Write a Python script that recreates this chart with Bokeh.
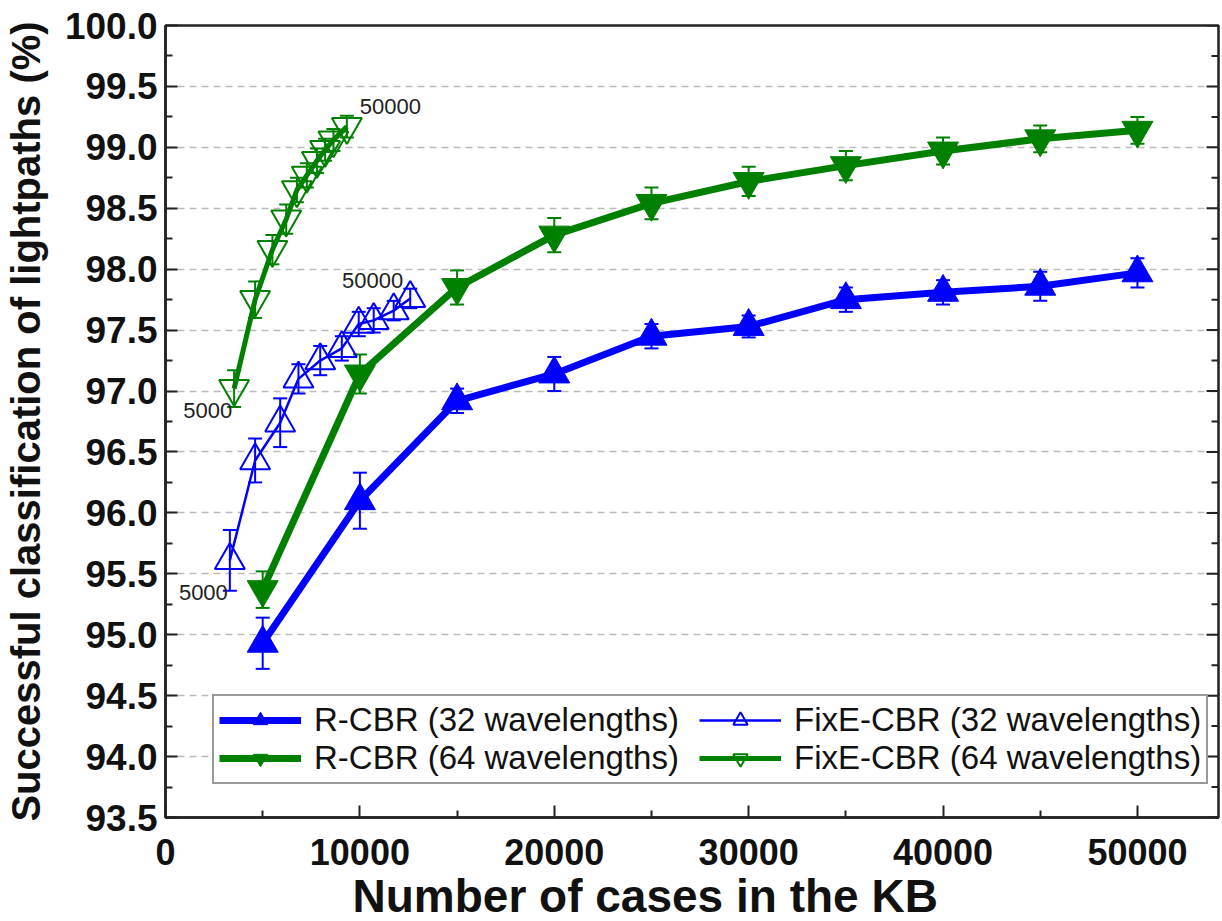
import numpy as np
from bokeh.plotting import figure
from bokeh.models import (ColumnDataSource, Whisker, Legend, LegendItem, Title,
                          Range1d, FixedTicker, PrintfTickFormatter, BasicTickFormatter)
from bokeh.embed import file_html
from bokeh.resources import INLINE
from bokeh.core.properties import value

# ---------------- data ----------------
kb_sizes = [5000, 10000, 15000, 20000, 25000, 30000, 35000, 40000, 45000, 50000]

rcbr32 = [94.93, 96.10, 96.92, 97.14, 97.45, 97.53, 97.75, 97.81, 97.86, 97.97]
rcbr32_err = [0.21, 0.23, 0.10, 0.14, 0.10, 0.09, 0.10, 0.10, 0.12, 0.12]

rcbr64 = [95.37, 97.14, 97.85, 98.28, 98.54, 98.72, 98.85, 98.97, 99.07, 99.14]
rcbr64_err = [0.15, 0.16, 0.14, 0.14, 0.13, 0.12, 0.12, 0.11, 0.11, 0.11]

fixe32_x = [3310, 4610, 5900, 6840, 7960, 9070, 9940, 10710, 11740, 12590]
fixe32 = [95.61, 96.43, 96.74, 97.10, 97.25, 97.35, 97.55, 97.58, 97.66, 97.76]
fixe32_err = [0.25, 0.18, 0.20, 0.12, 0.12, 0.10, 0.10, 0.10, 0.08, 0.08]

fixe64_x = [3530, 4610, 5500, 6210, 6760, 7270, 7790, 8210, 8640, 9330]
fixe64 = [97.02, 97.75, 98.16, 98.41, 98.65, 98.77, 98.89, 98.98, 99.06, 99.17]
fixe64_err = [0.15, 0.15, 0.12, 0.12, 0.10, 0.10, 0.10, 0.09, 0.09, 0.09]

y_ticks = [93.5, 94.0, 94.5, 95.0, 95.5, 96.0, 96.5, 97.0, 97.5, 98.0, 98.5, 99.0, 99.5, 100.0]
y_minor = [93.75, 94.25, 94.75, 95.25, 95.75, 96.25, 96.75, 97.25, 97.75, 98.25, 98.75, 99.25, 99.75]
x_ticks = [0, 10000, 20000, 30000, 40000, 50000]
x_minor = [5000, 15000, 25000, 35000, 45000]

labels = ["R-CBR (32 wavelengths)", "FixE-CBR (32 wavelengths)",
          "R-CBR (64 wavelengths)", "FixE-CBR (64 wavelengths)"]
first_last = ["5000", "50000"]
x_title = "Number of cases in the KB"
y_title = "Successful classification of lightpaths (%)"

BLUE = "#0000FF"
GREEN = "#008000"
INK = "#222222"

X_END = 54170

# ---------------- figure ----------------
p = figure(width=1222, height=921, output_backend="svg", toolbar_location=None,
           x_range=Range1d(0, X_END), y_range=Range1d(93.5, 100.0),
           min_border_left=165, min_border_right=4, min_border_top=25,
           min_border_bottom=2)
p.background_fill_color = "white"
p.border_fill_color = "white"
p.outline_line_color = INK
p.outline_line_width = 2.5


def src(x, y, e):
    return ColumnDataSource(dict(x=x, y=y, lo=[a - b for a, b in zip(y, e)],
                                 hi=[a + b for a, b in zip(y, e)]))


s_r32 = src(kb_sizes, rcbr32, rcbr32_err)
s_r64 = src(kb_sizes, rcbr64, rcbr64_err)
s_f32 = src(fixe32_x, fixe32, fixe32_err)
s_f64 = src(fixe64_x, fixe64, fixe64_err)

# inward ticks on the right frame edge (mirror of the left axis)
p.ray(x=[X_END] * len(y_ticks), y=y_ticks, length=12, length_units="screen",
      angle=np.pi, line_color=INK, line_width=2)
p.ray(x=[X_END] * len(y_minor), y=y_minor, length=7, length_units="screen",
      angle=np.pi, line_color=INK, line_width=2)

# lines
l_f32 = p.line("x", "y", source=s_f32, color=BLUE, line_width=2.5)
l_f64 = p.line("x", "y", source=s_f64, color=GREEN, line_width=5)
l_r32 = p.line("x", "y", source=s_r32, color=BLUE, line_width=7)
l_r64 = p.line("x", "y", source=s_r64, color=GREEN, line_width=7)

# error bars
for s, c in [(s_r32, BLUE), (s_r64, GREEN), (s_f32, BLUE), (s_f64, GREEN)]:
    w = Whisker(source=s, base="x", lower="lo", upper="hi", line_color=c, line_width=2)
    for h in (w.upper_head, w.lower_head):
        h.size = 14
        h.line_color = c
        h.line_width = 2
    p.add_layout(w)

# markers
m_r32 = p.scatter("x", "y", source=s_r32, marker="triangle", size=31,
                  fill_color=BLUE, line_color=BLUE)
m_r64 = p.scatter("x", "y", source=s_r64, marker="inverted_triangle", size=31,
                  fill_color=GREEN, line_color=GREEN)
m_f32 = p.scatter("x", "y", source=s_f32, marker="triangle", size=30,
                  fill_color=None, line_color=BLUE, line_width=2)
m_f64 = p.scatter("x", "y", source=s_f64, marker="inverted_triangle", size=30,
                  fill_color=None, line_color=GREEN, line_width=2)

# annotations of first / last KB size for FixE-CBR
ann_font = value("Liberation Sans")
p.text(x=[fixe64_x[0]], y=[fixe64[0]], text=[first_last[0]], text_align="right",
       text_baseline="middle", x_offset=-2, y_offset=22, text_font=ann_font,
       text_font_size="22px", text_color=INK)
p.text(x=[fixe64_x[-1]], y=[fixe64[-1]], text=[first_last[1]], text_align="left",
       text_baseline="middle", x_offset=13, y_offset=-20, text_font=ann_font,
       text_font_size="22px", text_color=INK)
p.text(x=[fixe32_x[0]], y=[fixe32[0]], text=[first_last[0]], text_align="right",
       text_baseline="middle", x_offset=-2, y_offset=32, text_font=ann_font,
       text_font_size="22px", text_color=INK)
p.text(x=[fixe32_x[-1]], y=[fixe32[-1]], text=[first_last[1]], text_align="right",
       text_baseline="middle", x_offset=-7, y_offset=-18, text_font=ann_font,
       text_font_size="22px", text_color=INK)

# ---------------- axes ----------------
yax = p.yaxis[0]
yax.ticker = FixedTicker(ticks=y_ticks, minor_ticks=y_minor)
yax.formatter = PrintfTickFormatter(format="%.1f")
xax = p.xaxis[0]
xax.ticker = FixedTicker(ticks=x_ticks, minor_ticks=x_minor)
xax.formatter = BasicTickFormatter(use_scientific=False)

for ax in (xax, yax):
    ax.axis_line_width = 2.5
    ax.axis_line_color = INK
    ax.major_tick_in = 12
    ax.major_tick_out = 0
    ax.minor_tick_in = 7
    ax.minor_tick_out = 0
    ax.major_tick_line_width = 2
    ax.minor_tick_line_width = 2
    ax.major_tick_line_color = INK
    ax.minor_tick_line_color = INK
    ax.major_label_text_font = "Liberation Sans"
    ax.major_label_text_font_style = "bold"
    ax.major_label_text_color = "#111111"
    ax.axis_label_text_font = "Liberation Sans"
    ax.axis_label_text_font_style = "bold"
    ax.axis_label_text_color = "#111111"

yax.major_label_text_font_size = "37px"
yax.major_label_standoff = 8
yax.axis_label = y_title
yax.axis_label_text_font_size = "40px"
yax.axis_label_standoff = 14

xax.major_label_text_font_size = "36px"
xax.major_label_standoff = 21

# x-axis title: the reference places it left of the frame centre
p.add_layout(Title(text=x_title, align="left", offset=187, standoff=0,
                   text_line_height=0.85,
                   text_font="Liberation Sans", text_font_style="bold",
                   text_font_size="46px", text_color="#111111"), "below")

p.ygrid.ticker = FixedTicker(ticks=y_ticks)
p.ygrid.grid_line_color = "#BBBBBB"
p.ygrid.grid_line_dash = "7 5"
p.ygrid.grid_line_width = 1.5
p.xgrid.visible = False

# ---------------- legend ----------------
legend = Legend(items=[
    LegendItem(label=labels[0], renderers=[l_r32, m_r32]),
    LegendItem(label=labels[1], renderers=[l_f32, m_f32]),
    LegendItem(label=labels[2], renderers=[l_r64, m_r64]),
    LegendItem(label=labels[3], renderers=[l_f64, m_f64]),
], location=(47, 33), orientation="horizontal", ncols=2)
legend.label_text_font = "Liberation Sans"
legend.label_text_font_size = "33px"
legend.label_text_color = "#111111"
legend.label_width = 385
legend.glyph_width = 82
legend.glyph_height = 36
legend.label_standoff = 13
legend.spacing = 0
legend.padding = 5
legend.margin = 0
legend.border_line_color = "#333333"
legend.border_line_width = 2
legend.background_fill_color = "white"
legend.background_fill_alpha = 1.0
p.add_layout(legend)

open("out.html", "w").write(file_html(p, INLINE))
